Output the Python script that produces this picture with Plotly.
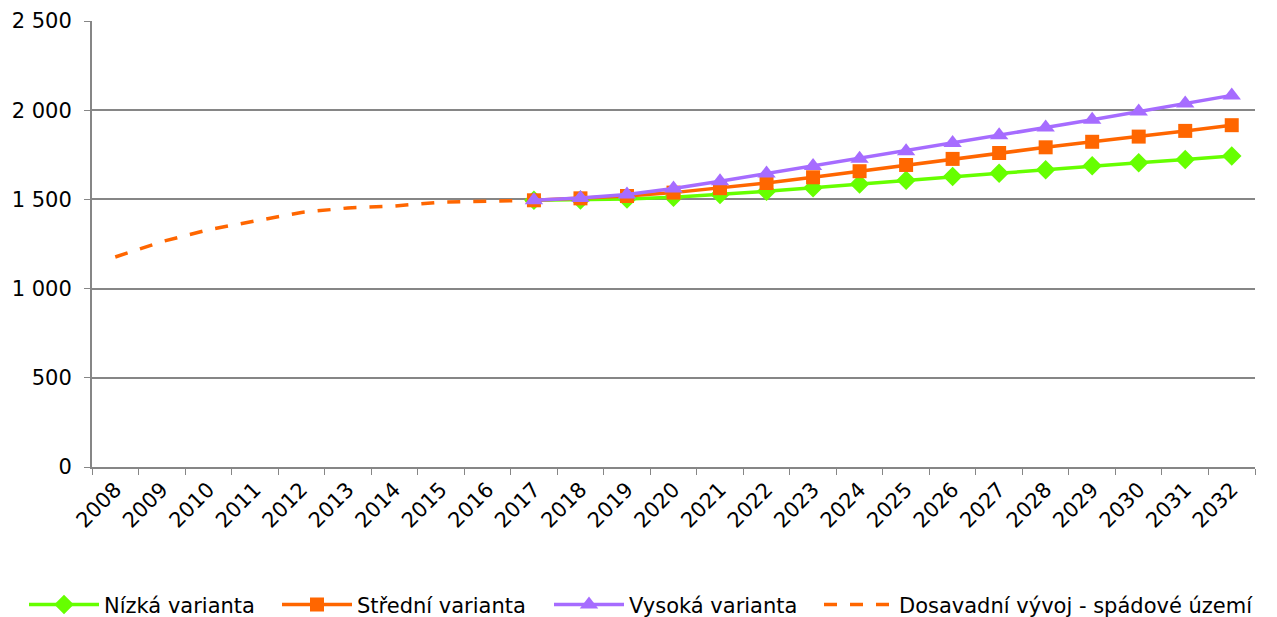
import plotly.graph_objects as go

years = [str(y) for y in range(2008, 2033)]
hist_years = years[:10]          # 2008-2017
proj_years = years[9:]           # 2017-2032

hist = [1177, 1263, 1330, 1381, 1427, 1452, 1463, 1485, 1488, 1495]
low = [1495, 1497, 1502, 1512, 1527, 1545, 1565, 1586, 1608, 1628, 1646, 1666, 1688, 1706, 1724, 1743]
mid = [1495, 1506, 1519, 1538, 1563, 1592, 1624, 1658, 1693, 1727, 1760, 1792, 1823, 1852, 1884, 1916]
high = [1495, 1508, 1528, 1561, 1602, 1645, 1687, 1728, 1770, 1816, 1860, 1903, 1947, 1993, 2038, 2083]

ytickvals = [0, 500, 1000, 1500, 2000, 2500]
yticktext = ["0", "500", "1 000", "1 500", "2 000", "2 500"]

names = ["Nízká varianta", "Střední varianta", "Vysoká varianta", "Dosavadní vývoj - spádové území"]
GREEN = "#66FF00"
ORANGE = "#FF6600"
PURPLE = "#A66CFF"
FONT = "DejaVu Sans"
FS = 21
W, H = 1269, 609

fig = go.Figure()
fig.add_trace(go.Scatter(x=hist_years, y=hist, name=names[3], mode="lines",
                         line=dict(color=ORANGE, width=3.5, dash="13px,13px"),
                         legend="legend4"))
fig.add_trace(go.Scatter(x=proj_years, y=low, name=names[0], mode="lines+markers",
                         line=dict(color=GREEN, width=3.5),
                         marker=dict(symbol="diamond", size=15, color=GREEN),
                         legend="legend"))
fig.add_trace(go.Scatter(x=proj_years, y=mid, name=names[1], mode="lines+markers",
                         line=dict(color=ORANGE, width=3.5),
                         marker=dict(symbol="square", size=14, color=ORANGE),
                         legend="legend2"))
fig.add_trace(go.Scatter(x=proj_years, y=high, name=names[2], mode="lines+markers",
                         line=dict(color=PURPLE, width=3.5),
                         marker=dict(symbol="triangle-up", size=16, color=PURPLE),
                         legend="legend3"))

def leg(xpx):
    return dict(orientation="h", x=xpx / W, xanchor="left", xref="container",
                y=-0.309, yanchor="middle", yref="paper",
                font=dict(family=FONT, size=FS), itemwidth=70,
                bgcolor="rgba(0,0,0,0)")

fig.update_layout(
    width=W, height=H,
    margin=dict(l=84, r=22, t=13, b=150, autoexpand=False),
    paper_bgcolor="white", plot_bgcolor="white",
    font=dict(family=FONT, size=FS, color="black"),
    showlegend=True,
    legend=leg(16), legend2=leg(269), legend3=leg(541), legend4=leg(811),
)
fig.update_xaxes(type="category", categoryorder="array", categoryarray=years,
                 range=[-0.5, len(years) - 0.5], automargin=False,
                 tickangle=-45, tickson="boundaries", ticks="outside", ticklen=6,
                 tickcolor="#868686", showline=True, linecolor="#868686", linewidth=2,
                 showgrid=False, tickfont=dict(family=FONT, size=FS))
fig.update_yaxes(range=[0, 2500], tickvals=ytickvals, ticktext=yticktext, automargin=False,
                 ticks="outside", ticklen=6, tickcolor="#868686", ticklabelstandoff=8,
                 showline=True, linecolor="#868686", linewidth=2,
                 showgrid=True, gridcolor="#868686", gridwidth=2,
                 zeroline=False, tickfont=dict(family=FONT, size=FS))

fig.write_html("out.html")
